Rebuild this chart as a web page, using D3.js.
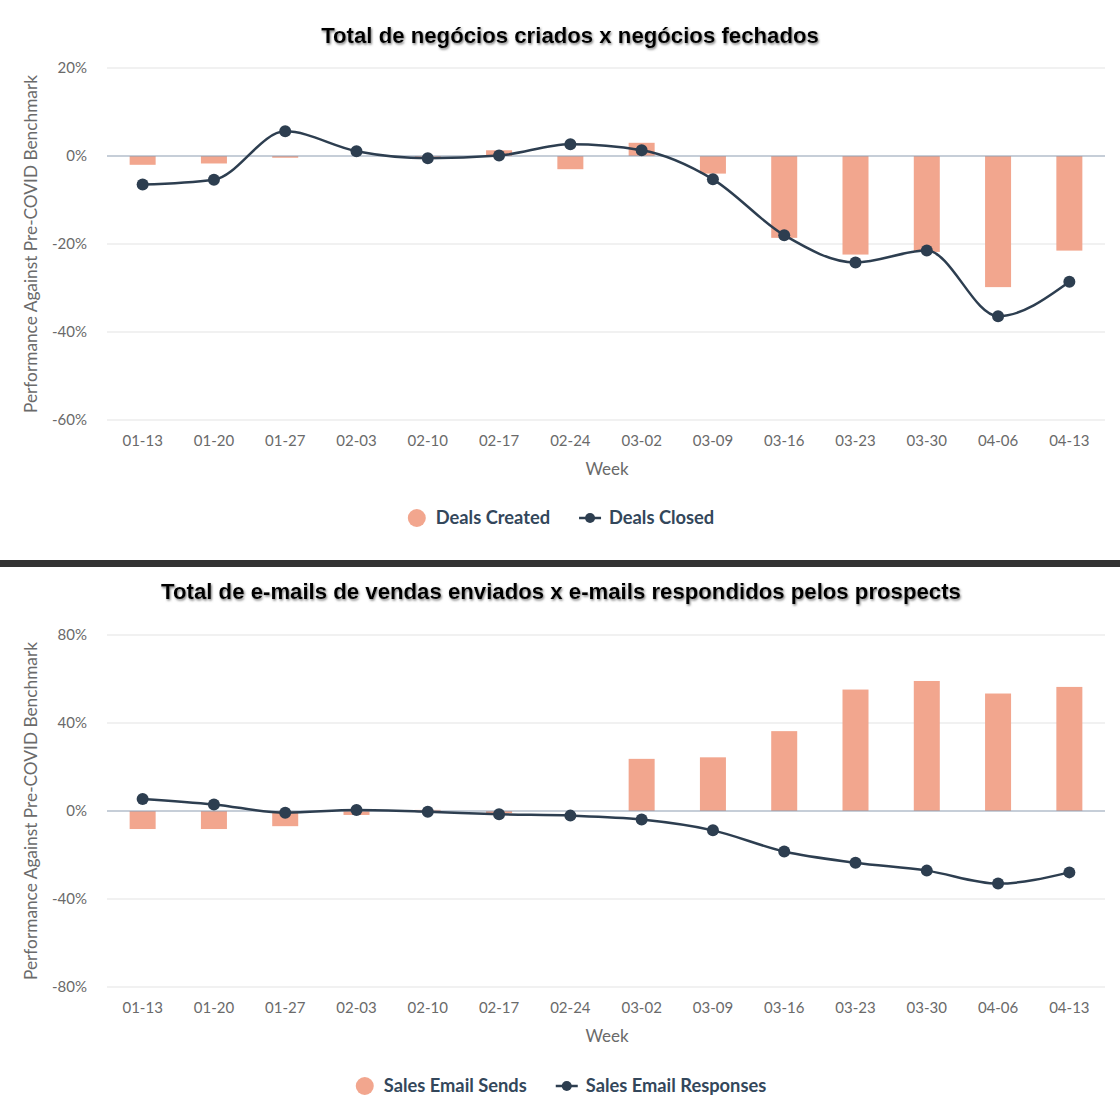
<!DOCTYPE html>
<html>
<head>
<meta charset="utf-8">
<script src="https://cdn.jsdelivr.net/npm/d3@7"></script>
<style>
  body { margin: 0; background: #fff; }
  svg { display: block; }
</style>
</head>
<body>
<svg id="chart"></svg>
<script>
// weeks shared by both panels
var weeks = ["01-13","01-20","01-27","02-03","02-10","02-17","02-24","03-02","03-09","03-16","03-23","03-30","04-06","04-13"]

// panel 1: deals
var dealsCreated = [-2.0,-1.7,-0.4,0.0,-0.2,1.3,-3.0,3.0,-4.0,-18.6,-22.4,-21.8,-29.8,-21.5]
var dealsClosed  = [-6.5,-5.4,5.6,1.1,-0.5,0.1,2.65,1.3,-5.3,-18.0,-24.2,-21.5,-36.4,-28.6]
var dealsTicks   = [20,0,-20,-40,-60]

// panel 2: sales emails
var emailSends     = [-8.2,-8.2,-6.9,-1.8,0.5,-1.0,0.0,23.7,24.4,36.3,55.2,59.1,53.4,56.4]
var emailResponses = [5.5,3.0,-0.75,0.45,-0.3,-1.5,-2.1,-3.9,-8.8,-18.4,-23.5,-27.1,-33.0,-27.9]
var emailTicks     = [80,40,0,-40,-80]

var width = 1120, height = 1109
var barColor = "#f2a68e", lineColor = "#2d3e50"

var svg = d3.select("#chart")
    .attr("width", width)
    .attr("height", height)

var defs = svg.append("defs")
defs.append("filter")
    .attr("id","shadow")
    .attr("x","-5%").attr("y","-30%").attr("width","110%").attr("height","160%")
  .append("feDropShadow")
    .attr("dx",1).attr("dy",1.5).attr("stdDeviation",1)
    .attr("flood-color","#666").attr("flood-opacity",0.85)

// dark separator between the two screenshots
svg.append("rect")
   .attr("x",0).attr("y",560).attr("width",width).attr("height",7)
   .attr("fill","#333")

function drawPanel(opt){
  var g = svg.append("g")

  g.append("text")
   .attr("x", opt.titleX)
   .attr("y", opt.titleY)
   .attr("text-anchor","middle")
   .attr("font-family","'Liberation Sans', Arial, sans-serif")
   .attr("font-weight","bold")
   .attr("font-size", opt.titleSize)
   .attr("fill","#000")
   .attr("filter","url(#shadow)")
   .text(opt.title)

  var x = d3.scaleBand()
            .domain(weeks)
            .range([107,1105])
  var y = d3.scaleLinear()
            .domain(opt.domain)
            .range([opt.bottom, opt.top])

  // grid
  g.append("g")
   .selectAll("line")
   .data(opt.ticks.filter(t=>t!==0))
   .enter()
   .append("line")
   .attr("x1",107).attr("x2",1105)
   .attr("y1",d=>y(d)).attr("y2",d=>y(d))
   .attr("stroke","#e3e3e3")
   .attr("stroke-width",1)

  g.append("g")
   .selectAll("text")
   .data(opt.ticks)
   .enter()
   .append("text")
   .attr("x",87)
   .attr("y",d=>y(d)+5)
   .attr("text-anchor","end")
   .attr("font-family","Lato, sans-serif")
   .attr("font-size",15)
   .attr("fill","#6a6a6a")
   .text(d=>d+"%")

  // x labels
  g.append("g")
   .selectAll("text")
   .data(weeks)
   .enter()
   .append("text")
   .attr("x",d=>x(d)+x.bandwidth()/2)
   .attr("y",opt.bottom+26)
   .attr("text-anchor","middle")
   .attr("font-family","Lato, sans-serif")
   .attr("font-size",15)
   .attr("fill","#6a6a6a")
   .text(d=>d)

  g.append("text")
   .attr("x",607)
   .attr("y",opt.bottom+55)
   .attr("text-anchor","middle")
   .attr("font-family","Lato, sans-serif")
   .attr("font-size",17)
   .attr("fill","#6a6a6a")
   .text("Week")

  var midY = (opt.top+opt.bottom)/2
  g.append("text")
   .attr("transform",`translate(37,${midY}) rotate(-90)`)
   .attr("text-anchor","middle")
   .attr("font-family","Lato, sans-serif")
   .attr("font-size",17.3)
   .attr("fill","#6a6a6a")
   .text("Performance Against Pre-COVID Benchmark")

  // bars
  var bw = 26
  g.append("g")
   .selectAll("rect")
   .data(opt.bars)
   .enter()
   .append("rect")
   .attr("x",(d,i)=>x(weeks[i])+x.bandwidth()/2-bw/2)
   .attr("y",d=>Math.min(y(d),y(0)))
   .attr("width",bw)
   .attr("height",d=>Math.abs(y(d)-y(0)))
   .attr("fill",barColor)

  // zero line
  g.append("line")
   .attr("x1",107).attr("x2",1105)
   .attr("y1",y(0)).attr("y2",y(0))
   .attr("stroke","#8d9db2")
   .attr("stroke-width",1.2)

  var line = d3.line()
               .x((d,i)=>x(weeks[i])+x.bandwidth()/2)
               .y(d=>y(d))
               .curve(d3.curveMonotoneX)
  g.append("path")
   .datum(opt.line)
   .attr("d",line)
   .attr("fill","none")
   .attr("stroke",lineColor)
   .attr("stroke-width",2.5)

  g.append("g")
   .selectAll("circle")
   .data(opt.line)
   .enter()
   .append("circle")
   .attr("cx",(d,i)=>x(weeks[i])+x.bandwidth()/2)
   .attr("cy",d=>y(d))
   .attr("r",6)
   .attr("fill",lineColor)

  // legend
  var leg = g.append("g")
  var ly = opt.legendY
  var t1 = leg.append("text")
              .attr("y",ly+6)
              .attr("font-family","Lato, sans-serif")
              .attr("font-weight","bold")
              .attr("font-size",18.3)
              .attr("fill","#33475b")
              .text(opt.names[0])
  var t2 = leg.append("text")
              .attr("y",ly+6)
              .attr("font-family","Lato, sans-serif")
              .attr("font-weight","bold")
              .attr("font-size",18.3)
              .attr("fill","#33475b")
              .text(opt.names[1])
  var w1 = t1.node().getComputedTextLength()
  var w2 = t2.node().getComputedTextLength()
  var total = 18 + 10 + w1 + 29 + 22 + 8 + w2
  var sx = 561 - total/2
  leg.append("circle")
     .attr("cx",sx+9).attr("cy",ly).attr("r",9)
     .attr("fill",barColor)
  t1.attr("x",sx+28)
  var lx = sx+28+w1+29
  leg.append("line")
     .attr("x1",lx).attr("x2",lx+22)
     .attr("y1",ly).attr("y2",ly)
     .attr("stroke",lineColor).attr("stroke-width",2.5)
  leg.append("circle")
     .attr("cx",lx+11).attr("cy",ly).attr("r",5)
     .attr("fill",lineColor)
  t2.attr("x",lx+30)
}

drawPanel({
  title:"Total de negócios criados x negócios fechados",
  titleX:570, titleY:43, titleSize:22.2,
  domain:[-60,20], top:68, bottom:420,
  ticks:dealsTicks,
  bars:dealsCreated, line:dealsClosed,
  names:["Deals Created","Deals Closed"],
  legendY:518
})

drawPanel({
  title:"Total de e-mails de vendas enviados x e-mails respondidos pelos prospects",
  titleX:561, titleY:599, titleSize:22.2,
  domain:[-80,80], top:635, bottom:987,
  ticks:emailTicks,
  bars:emailSends, line:emailResponses,
  names:["Sales Email Sends","Sales Email Responses"],
  legendY:1086
})
</script>
</body>
</html>
